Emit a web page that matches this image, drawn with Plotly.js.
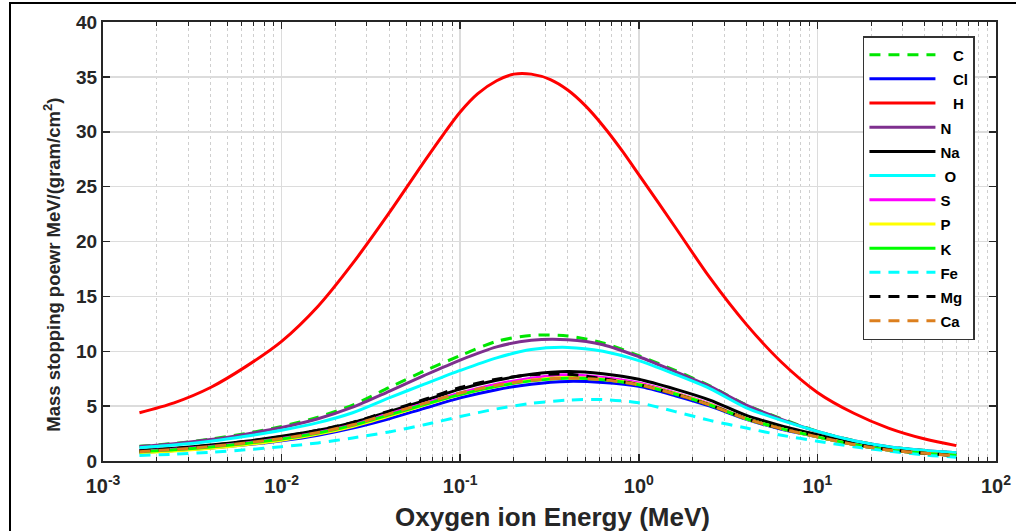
<!DOCTYPE html>
<html>
<head>
<meta charset="utf-8">
<script src="https://cdn.plot.ly/plotly-3.0.1.min.js"></script>
<style>
  html, body { margin:0; padding:0; background:#fff; }
  #wrap { position:relative; width:1016px; height:531px; overflow:hidden; }
  #chart { position:absolute; left:0; top:0; width:1016px; height:531px; }
  #frame { position:absolute; left:9px; top:2px; width:1020px; height:540px;
           border-left:2px solid #000; border-top:2px solid #000; pointer-events:none; }
</style>
</head>
<body>
<div id="wrap"><div id="chart"></div><div id="frame"></div></div>
<script>
// Energy grid (MeV)
const energy = [0.0016, 0.0025, 0.004, 0.0063, 0.01, 0.016, 0.025, 0.04, 0.063, 0.1, 0.16, 0.25, 0.4, 0.63, 1, 1.6, 2.5, 4, 6.3, 10, 16, 25, 40, 60];
// Finer energy grid for the H curve (sharper peak)
const energyH = [0.0016, 0.0025, 0.004, 0.0063, 0.01, 0.016, 0.025, 0.04, 0.063, 0.08, 0.1, 0.125, 0.16, 0.2, 0.25, 0.32, 0.4, 0.5, 0.63, 0.8, 1, 1.6, 2.5, 4, 6.3, 10, 16, 25, 40, 60];

// Mass stopping power MeV/(gram/cm^2)
const H  = [4.4, 5.3, 6.7, 8.6, 10.9, 14.1, 18.0, 22.6, 27.3, 29.7, 31.8, 33.45, 34.65, 35.25, 35.25, 34.75, 33.8, 32.4, 30.55, 28.35, 26.1, 21.3, 16.7, 12.45, 9.0, 6.25, 4.35, 3.0, 2.0, 1.4];
const C  = [1.35, 1.60, 2.00, 2.50, 3.15, 4.00, 5.10, 6.70, 8.20, 9.60, 10.9, 11.45, 11.4, 10.75, 9.6, 8.25, 6.85, 5.1, 3.85, 2.7, 1.85, 1.3, 0.95, 0.75];
const Cl = [0.78, 0.95, 1.18, 1.47, 1.85, 2.35, 3.00, 3.85, 4.80, 5.75, 6.50, 7.00, 7.25, 7.15, 6.8, 5.95, 5.0, 3.8, 2.9, 2.2, 1.5, 1.0, 0.7, 0.5];
const N  = [1.32, 1.57, 1.95, 2.45, 3.05, 3.85, 4.90, 6.35, 7.80, 9.20, 10.4, 11.0, 11.05, 10.6, 9.5, 8.15, 6.8, 5.1, 3.8, 2.7, 1.85, 1.3, 0.95, 0.75];
const Na = [0.98, 1.17, 1.45, 1.80, 2.25, 2.80, 3.50, 4.50, 5.50, 6.55, 7.35, 7.90, 8.15, 7.95, 7.45, 6.55, 5.55, 4.15, 3.2, 2.4, 1.65, 1.15, 0.8, 0.6];
const O  = [1.20, 1.45, 1.80, 2.25, 2.80, 3.50, 4.40, 5.75, 7.00, 8.25, 9.40, 10.15, 10.35, 10.0, 9.15, 7.9, 6.6, 4.85, 3.7, 2.7, 1.85, 1.3, 0.95, 0.75];
const S  = [0.88, 1.07, 1.33, 1.65, 2.05, 2.60, 3.30, 4.30, 5.25, 6.20, 7.00, 7.55, 7.85, 7.60, 7.1, 6.2, 5.2, 3.85, 2.95, 2.2, 1.5, 1.0, 0.7, 0.5];
const P  = [0.72, 0.90, 1.15, 1.48, 1.90, 2.45, 3.15, 4.10, 5.10, 6.05, 6.80, 7.35, 7.60, 7.45, 7.0, 6.15, 5.15, 3.85, 2.95, 2.2, 1.5, 1.0, 0.7, 0.5];
const K  = [0.85, 1.03, 1.28, 1.60, 2.00, 2.55, 3.25, 4.20, 5.15, 6.05, 6.80, 7.30, 7.55, 7.40, 6.95, 6.1, 5.1, 3.85, 2.95, 2.2, 1.5, 1.0, 0.7, 0.5];
const Fe = [0.50, 0.62, 0.80, 1.02, 1.30, 1.65, 2.10, 2.65, 3.30, 4.05, 4.75, 5.25, 5.55, 5.60, 5.3, 4.5, 3.7, 3.0, 2.35, 1.8, 1.3, 0.9, 0.55, 0.35];
const Mg = [0.92, 1.12, 1.42, 1.78, 2.22, 2.80, 3.52, 4.55, 5.60, 6.70, 7.45, 7.85, 7.90, 7.50, 6.95, 6.1, 5.1, 3.85, 2.95, 2.3, 1.55, 1.05, 0.7, 0.5];
const Ca = [0.85, 1.05, 1.32, 1.65, 2.05, 2.60, 3.30, 4.30, 5.25, 6.20, 6.90, 7.35, 7.55, 7.40, 6.95, 6.1, 5.1, 3.85, 2.95, 2.2, 1.5, 1.0, 0.7, 0.48];

const names = ['C', 'Cl', 'H', 'N', 'Na', 'O', 'S', 'P', 'K', 'Fe', 'Mg', 'Ca'];
const series = [C, Cl, H, N, Na, O, S, P, K, Fe, Mg, Ca];
const colors = ['#00e600', '#0000ff', '#ff0000', '#7e2f8e', '#000000', '#00ffff', '#ff00ff', '#ffff00', '#00ff00', '#00ffff', '#000000', '#dc7f1e'];
const dashes = ['dash', 'solid', 'solid', 'solid', 'solid', 'solid', 'solid', 'solid', 'solid', 'dash', 'dash', 'dash'];
// legend label indents as in the original legend
const indents = { C: 3, Cl: 3, H: 3, O: 1 };

const xTickVals = [0.001, 0.01, 0.1, 1, 10, 100];
const xTickText = ['10<sup>-3</sup>', '10<sup>-2</sup>', '10<sup>-1</sup>', '10<sup>0</sup>', '10<sup>1</sup>', '10<sup>2</sup>'];
const xMinorVals = [];
[0.001, 0.01, 0.1, 1, 10].forEach(d => { for (let k = 2; k <= 9; k++) xMinorVals.push(d * k); });

const traces = names.map((n, i) => ({
  x: n === 'H' ? energyH : energy, y: series[i],
  name: '<span style="font-size:15px">' + '\u00a0'.repeat(indents[n] || 0) + n + '</span>',
  type: 'scatter', mode: 'lines',
  line: { color: colors[i], width: 3, dash: dashes[i] === 'dash' ? '11px,8px' : 'solid', shape: 'spline', smoothing: 0.8 }
}));

const fontFam = 'Liberation Sans, Arial, sans-serif';
const layout = {
  width: 1016, height: 531,
  margin: { l: 103, r: 20, t: 22, b: 70 },
  paper_bgcolor: '#fff', plot_bgcolor: '#fff',
  font: { family: fontFam, color: '#262626' },
  showlegend: true,
  legend: {
    x: 0.851, y: 0.968, xanchor: 'left', yanchor: 'top',
    bgcolor: '#fff', bordercolor: '#333', borderwidth: 1.5,
    font: { family: fontFam, size: 16.3, color: '#000', weight: 'bold' },
    tracegroupgap: 0, itemwidth: 66
  },
  xaxis: {
    type: 'log', range: [-3, 2],
    tickvals: xTickVals, ticktext: xTickText,
    tickfont: { family: fontFam, size: 20, weight: 'bold', color: '#262626' },
    ticklabelstandoff: 6,
    ticks: 'inside', ticklen: 7, tickwidth: 1.5, tickcolor: '#262626',
    showline: true, linecolor: '#262626', linewidth: 2, mirror: 'ticks',
    showgrid: true, gridcolor: '#dcdcdc', gridwidth: 1.5,
    zeroline: false,
    minor: { tickmode: 'array', tickvals: xMinorVals, ticks: 'inside', ticklen: 4, tickwidth: 1, tickcolor: '#262626', showgrid: true, gridcolor: '#cfcfcf', griddash: 'dot', gridwidth: 1 }
  },
  yaxis: {
    range: [0, 40], dtick: 5, tick0: 0,
    tickfont: { family: fontFam, size: 19, weight: 'bold', color: '#262626' },
    ticks: 'inside', ticklen: 7, tickwidth: 1.5, tickcolor: '#262626',
    showline: true, linecolor: '#262626', linewidth: 2, mirror: 'ticks',
    showgrid: true, gridcolor: '#dcdcdc', gridwidth: 1.5,
    zeroline: false
  },
  annotations: [
    { xref: 'paper', yref: 'paper', x: 0.5035, y: -0.128, xanchor: 'center', yanchor: 'middle', showarrow: false,
      text: 'Oxygen ion Energy (MeV)', font: { family: fontFam, size: 26, weight: 'bold', color: '#262626' } },
    { xref: 'paper', yref: 'paper', x: -0.0571, y: 0.447, xanchor: 'center', yanchor: 'middle', showarrow: false, textangle: -90,
      text: 'Mass stopping poewr MeV/(gram/cm<sup>2</sup>)', font: { family: fontFam, size: 18.5, weight: 'bold', color: '#262626' } }
  ]
};

Plotly.newPlot('chart', traces, layout, { displayModeBar: false, staticPlot: true });
</script>
</body>
</html>
